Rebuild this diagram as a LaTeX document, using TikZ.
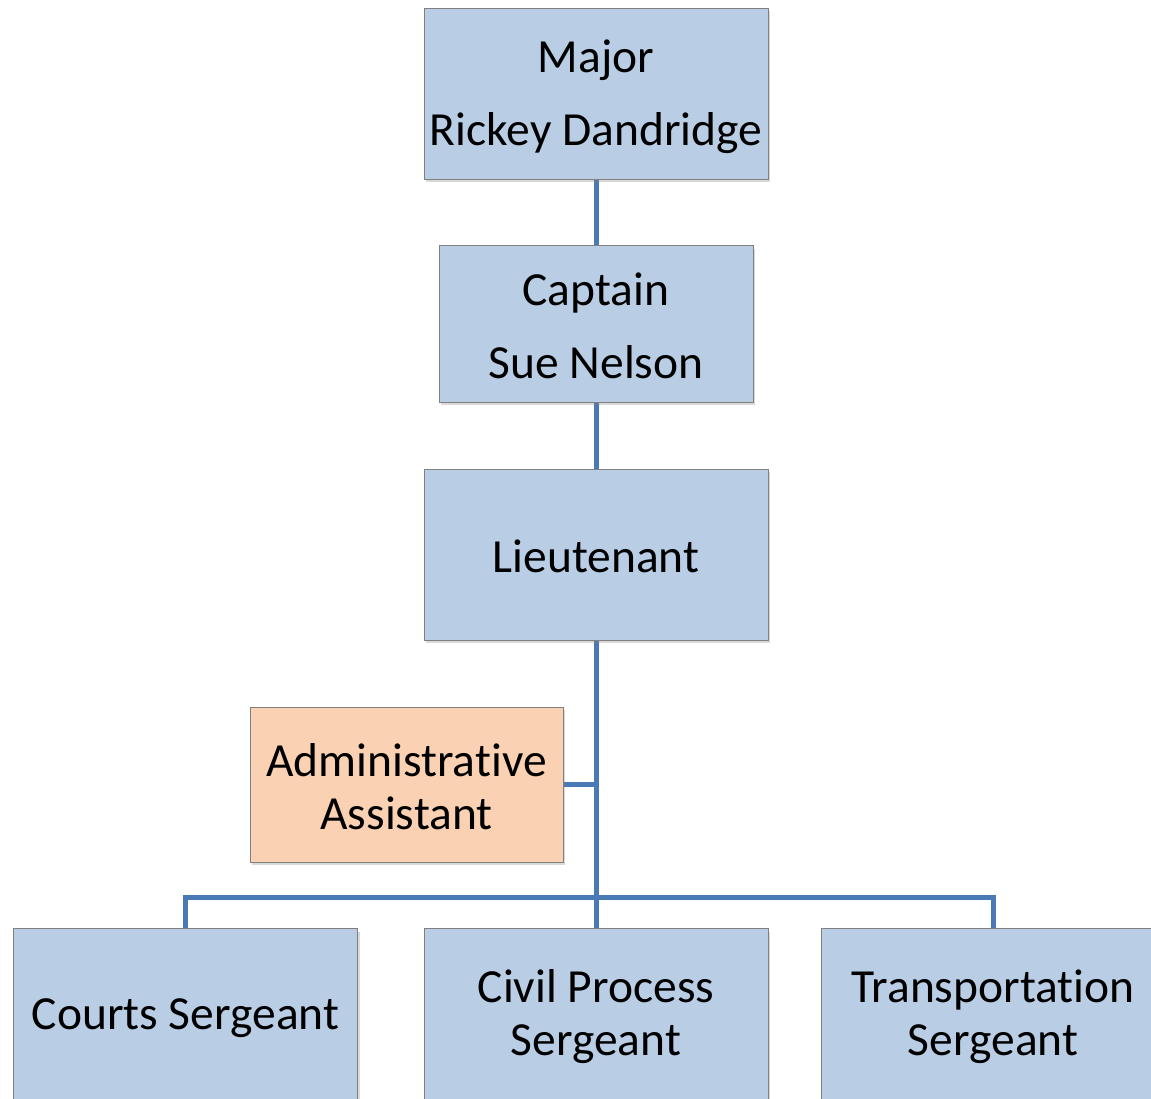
\documentclass[tikz,border=0pt]{standalone}
\usepackage{fontspec}
\setmainfont{Carlito}[Ligatures={NoCommon,NoRare,NoContextual}]
\usetikzlibrary{shadows,backgrounds}
\definecolor{boxblue}{HTML}{B9CDE5}
\definecolor{boxorange}{HTML}{FAD2B3}
\definecolor{edgegray}{HTML}{808080}
\definecolor{linkblue}{HTML}{4A7AB5}
\begin{document}
\begin{tikzpicture}[x=1pt,y=-1pt,
  box/.style={draw=edgegray, line width=1pt, fill=boxblue,
    drop shadow={shadow xshift=2pt,shadow yshift=-3pt,opacity=0.3},
    inner sep=0pt},
  txt/.style={inner sep=0pt, align=center, text=black,
    font=\fontsize{47.5}{53}\selectfont},
  wide/.style={minimum width=344pt, minimum height=171pt},
  tall/.style={font=\fontsize{47.5}{73}\selectfont},
  link/.style={draw=linkblue, line width=5pt}]
\useasboundingbox (0,0) rectangle (1151,1099);
\node[box, wide] (major) at (596,94) {};
\node[box, minimum width=314pt, minimum height=156pt] (captain) at (596,324) {};
\node[box, wide] (lieut) at (596,554.5) {};
\node[box, fill=boxorange, minimum width=313pt, minimum height=155pt] (admin) at (406.5,784.5) {};
\node[box, wide] (courts) at (185.5,1014) {};
\node[box, wide] (civil) at (596,1014) {};
\node[box, wide] (transport) at (993,1014) {};
\node[txt, tall] (majort) at ([yshift=-3pt]major.center) {Major\\Rickey Dandridge};
\node[txt, tall] (captaint) at ([yshift=-2pt]captain.center) {Captain\\Sue Nelson};
\node[txt] (lieutt) at ([yshift=-2pt]lieut.center) {Lieutenant};
\node[txt] (admint) at ([yshift=-2pt]admin.center) {Administrative\\Assistant};
\node[txt] (courtst) at ([yshift=-4pt]courts.center) {Courts Sergeant};
\node[txt] (civilt) at ([yshift=-3pt]civil.center) {Civil Process\\Sergeant};
\node[txt] (transportt) at ([yshift=-3pt]transport.center) {Transportation\\Sergeant};
\coordinate (bar) at (596,897);
\begin{scope}[on background layer]
\draw[link] (major.south) -- (captain.north);
\draw[link] (captain.south) -- (lieut.north);
\draw[link] (lieut.south) -- (civil.north);
\draw[link] (admin.east) -- (admin.east -| lieut.south);
\draw[link] (courts.north) |- (bar) -| (transport.north);
\end{scope}
\end{tikzpicture}
\end{document}
